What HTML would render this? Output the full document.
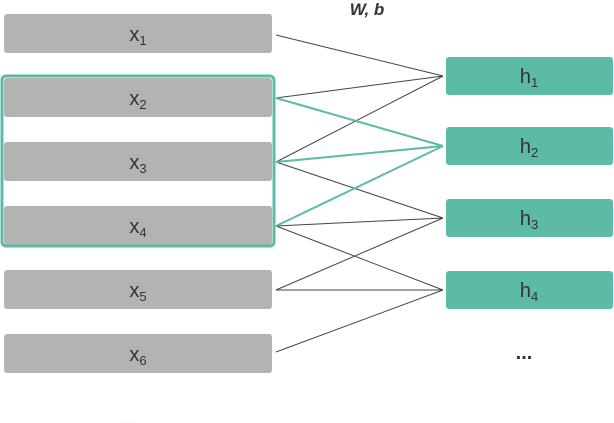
<!DOCTYPE html>
<html><head><style>
body{margin:0;width:614px;height:423px;background:#fff;overflow:hidden;font-family:"Liberation Sans",sans-serif}
svg{display:block}
</style></head><body>
<svg width="614" height="423" xmlns="http://www.w3.org/2000/svg" font-family="Liberation Sans, sans-serif">
<g fill="#b3b3b3">
<rect x="4" y="14" width="268" height="39" rx="3"/>
<rect x="4" y="78" width="268" height="39" rx="3"/>
<rect x="4" y="142" width="268" height="39" rx="3"/>
<rect x="4" y="206" width="268" height="39" rx="3"/>
<rect x="4" y="270" width="268" height="39" rx="3"/>
<rect x="4" y="334" width="268" height="39" rx="3"/>
</g>
<rect x="2" y="76" width="272" height="170" rx="4" fill="none" stroke="#5bbba4" stroke-width="3"/>
<g fill="#5bbba4">
<rect x="446" y="57" width="167" height="38" rx="3"/>
<rect x="446" y="127" width="167" height="38" rx="3"/>
<rect x="446" y="199" width="167" height="38" rx="3"/>
<rect x="446" y="271" width="167" height="38" rx="3"/>
</g>
<g stroke="#444" stroke-width="1" fill="none">
<line x1="276" y1="35" x2="443" y2="76"/>
<line x1="276" y1="98" x2="443" y2="76"/>
<line x1="276" y1="162" x2="443" y2="76"/>
<line x1="276" y1="162" x2="443" y2="218"/>
<line x1="276" y1="226" x2="443" y2="218"/>
<line x1="276" y1="226" x2="443" y2="290"/>
<line x1="276" y1="290" x2="443" y2="218"/>
<line x1="276" y1="290" x2="443" y2="290"/>
<line x1="276" y1="352" x2="443" y2="290"/>
</g>
<g stroke="#5bbba4" stroke-width="2" fill="none">
<line x1="276" y1="98" x2="443" y2="146"/>
<line x1="276" y1="162" x2="443" y2="146"/>
<line x1="276" y1="226" x2="443" y2="146"/>
</g>
<g fill="#333" font-size="20" text-anchor="middle">
<text x="138" y="41">x<tspan font-size="13" dy="4">1</tspan></text>
<text x="138" y="105">x<tspan font-size="13" dy="4">2</tspan></text>
<text x="138" y="169">x<tspan font-size="13" dy="4">3</tspan></text>
<text x="138" y="233">x<tspan font-size="13" dy="4">4</tspan></text>
<text x="138" y="297">x<tspan font-size="13" dy="4">5</tspan></text>
<text x="138" y="361">x<tspan font-size="13" dy="4">6</tspan></text>
<text x="529" y="83">h<tspan font-size="13" dy="4">1</tspan></text>
<text x="529" y="153">h<tspan font-size="13" dy="4">2</tspan></text>
<text x="529" y="225">h<tspan font-size="13" dy="4">3</tspan></text>
<text x="529" y="297">h<tspan font-size="13" dy="4">4</tspan></text>
</g>
<text x="367" y="15" font-size="17" font-weight="bold" font-style="italic" fill="#333" text-anchor="middle">W, b</text>
<text x="524" y="359" font-size="20" font-weight="bold" fill="#333" text-anchor="middle">...</text>
<text x="128" y="426" font-size="20" font-weight="bold" fill="#333" text-anchor="middle">...</text>
</svg>
</body></html>
